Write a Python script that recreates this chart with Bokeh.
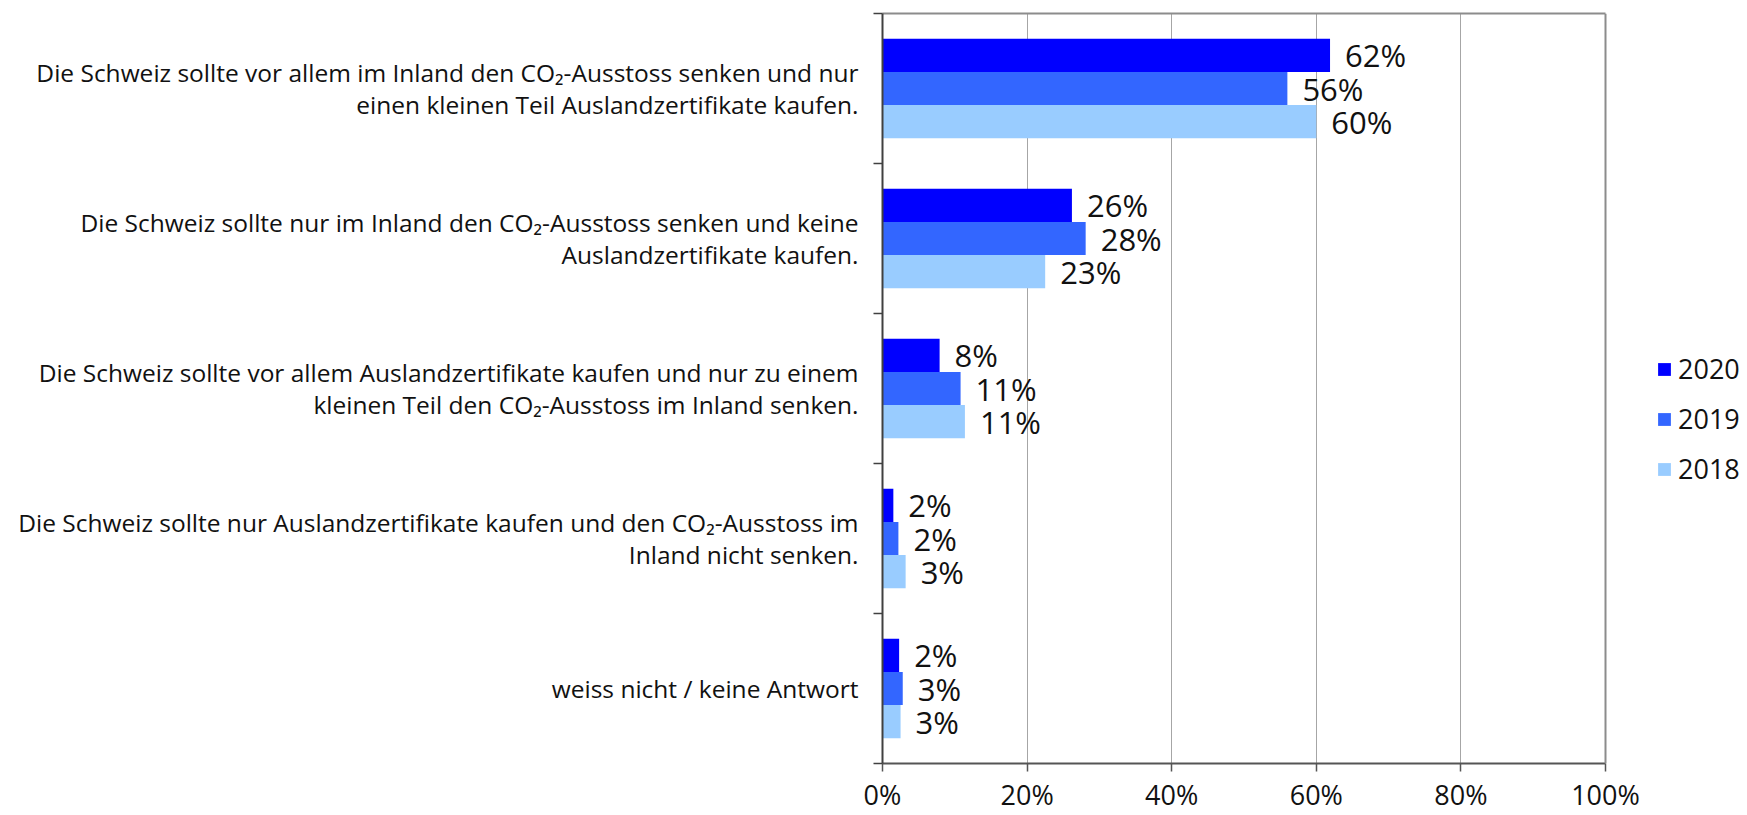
from bokeh.plotting import figure
from bokeh.models import (ColumnDataSource, FixedTicker, Legend, LegendItem,
                          LinearAxis, Span)
from bokeh.core.properties import value
from bokeh.embed import file_html
from bokeh.resources import INLINE

categories = [
    "Die Schweiz sollte vor allem im Inland den CO\u2082-Ausstoss senken und nur\neinen kleinen Teil Auslandzertifikate kaufen.",
    "Die Schweiz sollte nur im Inland den CO\u2082-Ausstoss senken und keine\nAuslandzertifikate kaufen.",
    "Die Schweiz sollte vor allem Auslandzertifikate kaufen und nur zu einem\nkleinen Teil den CO\u2082-Ausstoss im Inland senken.",
    "Die Schweiz sollte nur Auslandzertifikate kaufen und den CO\u2082-Ausstoss im\nInland nicht senken.",
    "weiss nicht / keine Antwort",
]
years = ["2020", "2019", "2018"]
values_2020 = [61.9, 26.2, 7.9, 1.5, 2.3]
values_2019 = [56.0, 28.1, 10.8, 2.2, 2.8]
values_2018 = [60.0, 22.5, 11.4, 3.2, 2.5]
labels_2020 = ["62%", "26%", "8%", "2%", "2%"]
labels_2019 = ["56%", "28%", "11%", "2%", "3%"]
labels_2018 = ["60%", "23%", "11%", "3%", "3%"]
colors = ["#0000FF", "#3366FF", "#99CCFF"]
x_ticks = [0, 20, 40, 60, 80, 100]
x_tick_labels = ["0%", "20%", "40%", "60%", "80%", "100%"]

FONT = "Open Sans"
n = len(categories)
centers = [n - 1 - i for i in range(n)]
bar_h = 0.221
offsets = [bar_h, 0.0, -bar_h]

W, H = 1747, 815
left_px, axis_right_px = 882, 1605
x_max = 100.0
x_end = x_max * (W - left_px) / (axis_right_px - left_px)

p = figure(width=W, height=H, output_backend="svg", toolbar_location=None,
           x_range=(0, x_end), y_range=(-0.5, n - 0.5),
           min_border_left=left_px, min_border_right=0, min_border_top=13, min_border_bottom=47)
p.background_fill_color = "white"
p.border_fill_color = "white"
p.outline_line_color = None

p.ygrid.grid_line_color = None
p.xgrid.grid_line_color = "#a6a6a6"
p.xgrid.grid_line_width = 1
p.xgrid.ticker = FixedTicker(ticks=x_ticks[1:-1])

series = [values_2020, values_2019, values_2018]
labels = [labels_2020, labels_2019, labels_2018]
items = []
for yr, vals, labs, col, off in zip(years, series, labels, colors, offsets):
    src = ColumnDataSource(dict(y=[c + off for c in centers], v=vals, lab=labs))
    r = p.hbar(y="y", right="v", left=0, height=bar_h, source=src,
               fill_color=col, line_color=None)
    p.text(x="v", y="y", text="lab", source=src, x_offset=15,
           text_font=value(FONT), text_font_size="31px", text_color="#111111",
           text_baseline="middle", text_align="left")
    items.append(LegendItem(label=yr, renderers=[r]))

# right border of the plot area at 100 %
p.add_layout(Span(location=x_max, dimension="height", line_color="#8c8c8c", line_width=2))

# x axis (bottom)
xa = p.below[0]
xa.bounds = (0, x_max)
xa.ticker = FixedTicker(ticks=x_ticks)
xa.major_label_overrides = {t: lab for t, lab in zip(x_ticks, x_tick_labels)}
xa.axis_line_color = "#555555"
xa.axis_line_width = 2
xa.major_tick_line_color = "#555555"
xa.major_tick_line_width = 1.5
xa.major_tick_out = 8
xa.major_tick_in = 0
xa.minor_tick_line_color = None
xa.major_label_text_font = FONT
xa.major_label_text_font_size = "27px"
xa.major_label_text_color = "#111111"
xa.major_label_standoff = 4

# top border as an axis line
top = LinearAxis(ticker=FixedTicker(ticks=[]), bounds=(0, x_max),
                 axis_line_color="#8c8c8c", axis_line_width=2,
                 major_tick_line_color=None, minor_tick_line_color=None,
                 major_tick_out=0, major_label_standoff=0,
                 major_label_text_font_size="0px")
p.add_layout(top, "above")

# y axis
ya = p.left[0]
boundaries = [c - 0.5 for c in centers] + [n - 0.5]
ya.ticker = FixedTicker(ticks=centers, minor_ticks=boundaries)
ya.major_label_overrides = {c: cat for c, cat in zip(centers, categories)}
ya.axis_line_color = "#404040"
ya.axis_line_width = 2
ya.major_tick_line_color = None
ya.major_tick_out = 9
ya.major_tick_in = 0
ya.minor_tick_line_color = "#404040"
ya.minor_tick_line_width = 1.5
ya.minor_tick_out = 9
ya.minor_tick_in = 0
ya.major_label_standoff = 15
ya.major_label_text_font = FONT
ya.major_label_text_font_size = "24.5px"
ya.major_label_text_line_height = 0.98
ya.major_label_text_color = "#111111"

legend = Legend(items=items, location=(774, 276), orientation="vertical",
                glyph_width=16, glyph_height=16, label_height=37, spacing=13,
                label_standoff=6, padding=0, margin=0,
                label_text_font=FONT, label_text_font_size="27px",
                label_text_color="#111111", border_line_color=None,
                background_fill_alpha=0)
p.add_layout(legend)

open("out.html", "w").write(file_html(p, INLINE))
